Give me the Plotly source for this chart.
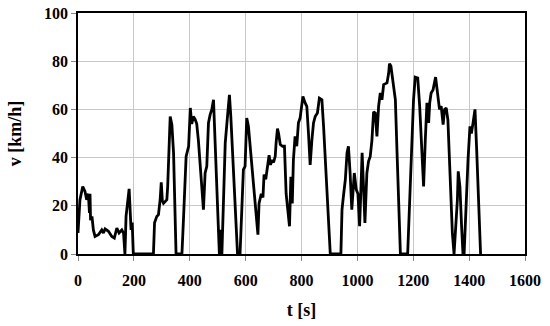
import plotly.graph_objects as go

t = [0, 7, 17, 25, 31, 37, 41, 43, 45, 50, 55, 61, 73, 85, 91, 97, 109, 121, 130, 139,
     147, 157, 163, 168, 172, 183, 190, 194, 198, 270, 274, 282, 288, 294, 298, 302, 306,
     318, 321, 326, 330, 336, 342, 351, 372, 378, 387, 396, 402, 407, 413, 419, 425, 431,
     437, 443, 449, 455, 461, 467, 473, 479, 485, 491, 497, 503, 506, 511, 515, 518, 527,
     535, 542, 547, 554, 562, 571, 580, 586, 592, 598, 604, 610, 616, 628, 638, 644, 648,
     656, 662, 666, 672, 678, 684, 689, 694, 700, 706, 709, 714, 718, 724, 732, 739, 745,
     751, 757, 762, 767, 771, 777, 783, 789, 795, 805, 813, 819, 825, 831, 837, 843, 849,
     857, 864, 873, 879, 885, 891, 903, 941, 945, 951, 957, 963, 968, 974, 980, 989, 996,
     1002, 1008, 1013, 1017, 1022, 1027, 1034, 1040, 1046, 1052, 1058, 1064, 1070, 1076,
     1082, 1088, 1094, 1106, 1112, 1115, 1120, 1127, 1136, 1142, 1148, 1154, 1180, 1184,
     1190, 1196, 1201, 1207, 1216, 1223, 1231, 1237, 1243, 1249, 1255, 1259, 1264, 1271,
     1280, 1286, 1294, 1300, 1307, 1312, 1318, 1324, 1331, 1340, 1346, 1352, 1358, 1361,
     1367, 1373, 1378, 1382, 1388, 1396, 1403, 1408, 1414, 1421, 1427, 1435, 1441]
v = [8.7, 22.5, 28, 26, 22.5, 25, 17, 25, 14, 15.6, 10, 7.3, 8, 10, 8.7, 10.4, 9.4, 7.3, 6.6, 10.8,
     8.7, 10, 8.7, 0, 15.6, 27, 10, 13, 0, 0, 13, 15.6, 16.3, 22.5, 29.7, 22, 21,
     22.5, 28, 40.5, 57, 53.7, 42, 0, 0, 15.6, 40.5, 44.7, 60.6, 54, 57, 56, 54, 47,
     39, 28, 18.4, 33.6, 36.4, 54.4, 57.8, 60, 64, 47, 28, 11.5, 0, 10, 0, 11.5, 46,
     57, 66, 57, 39, 20, 0, 0, 15.6, 35, 36.4, 56.4, 53, 44.7, 28, 15.6, 8, 21,
     25, 23.5, 33, 31, 36.4, 41, 37, 39, 38, 40.5, 46, 52, 50, 45.4, 44.7, 44.7, 25,
     18.4, 11.5, 32, 21, 39, 48.8, 44.7, 54.4, 56.4, 65.4, 62.7, 61.3, 50, 37, 47, 54.4, 57,
     58.5, 64.7, 64, 53, 39, 22.5, 0, 0, 18.4, 25, 31, 42, 44.7, 33.6, 18.4, 33.6, 26.7,
     25, 11.5, 28, 42, 28, 12.9, 33.6, 38.5, 40.5, 47, 59, 58.5, 48.8, 61.3,
     66.8, 64, 70.3, 71, 75, 79, 78, 71, 64, 42, 15.6, 0, 0, 12.9,
     28, 50, 64, 73.4, 73, 61.3, 42, 28, 47, 62.7, 54.4, 62.7, 66.8, 68.2,
     73.4, 68, 60, 61.3, 53.7, 60, 60.6, 55.7, 36.4, 8.7, 0, 11.5, 22.5, 34.3,
     28, 11.5, 0, 0, 18.4, 39, 53, 50, 54.4, 60, 43.3, 20, 0]

x_ticks = [0, 200, 400, 600, 800, 1000, 1200, 1400, 1600]
y_ticks = [0, 20, 40, 60, 80, 100]

FONT = "Liberation Serif"

fig = go.Figure(go.Scatter(
    x=t, y=v, mode="lines",
    line=dict(color="black", width=2.8),
    showlegend=False,
))

axis_common = dict(
    showgrid=True, gridcolor="#c8c8c8", gridwidth=1,
    showline=True, linecolor="black", linewidth=1.5, mirror=True,
    ticks="outside", ticklen=5, tickcolor="#888888",
    zeroline=False, automargin=False,
    tickfont=dict(family=FONT, size=16, color="black"),
)

fig.update_xaxes(range=[0, 1600], tickvals=x_ticks,
                 ticktext=[f"<b>{v_}</b>" for v_ in x_ticks], ticklabelstandoff=6,
                 title=dict(text="<b>t [s]</b>", font=dict(family=FONT, size=18, color="black"),
                            standoff=15),
                 **axis_common)
fig.update_yaxes(range=[0, 100], tickvals=y_ticks,
                 ticktext=[f"<b>{v_}</b>" for v_ in y_ticks],
                 title=dict(text="<b>v [km/h]</b>", font=dict(family=FONT, size=18, color="black"),
                            standoff=18),
                 **axis_common)

fig.update_layout(
    width=550, height=326,
    margin=dict(l=78, r=25, t=13, b=72),
    plot_bgcolor="white", paper_bgcolor="white",
)

# the page's default body margin would shift the figure by 8px
fig.write_html("out.html", config={"displayModeBar": False},
               post_script="document.body.style.margin='0';")
